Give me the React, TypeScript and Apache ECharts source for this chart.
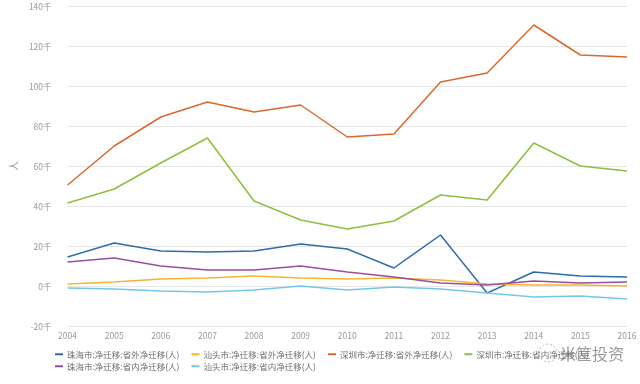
import React, { useEffect, useRef } from "react";
import * as echarts from "echarts";

const years = ["2004","2005","2006","2007","2008","2009","2010","2011","2012","2013","2014","2015","2016"];
const zhuhaiOut = [14.5, 21.5, 17.5, 17, 17.5, 21, 18.5, 9, 25.5, -3.5, 7, 5, 4.5];
const shantouOut = [1, 2, 3.5, 4, 5, 4, 3.5, 4, 3, 1, 0.5, 0.5, 0];
const shenzhenOut = [50.5, 70, 84.5, 92, 87, 90.5, 74.5, 76, 102, 106.5, 130.5, 115.5, 114.5];
const shenzhenIn = [41.5, 48.5, 61.5, 74, 42.5, 33, 28.5, 32.5, 45.5, 43, 71.5, 60, 57.5];
const zhuhaiIn = [12, 14, 10, 8, 8, 10, 7, 4.5, 1.5, 0.5, 2.5, 1.5, 2];
const shantouIn = [-1, -1.5, -2.5, -3, -2, 0, -2, -0.5, -1.5, -3.5, -5.5, -5, -6.5];

const names = [
  "珠海市:净迁移:省外净迁移(人)",
  "汕头市:净迁移:省外净迁移(人)",
  "深圳市:净迁移:省外净迁移(人)",
  "深圳市:净迁移:省内净迁移(人)",
  "珠海市:净迁移:省内净迁移(人)",
  "汕头市:净迁移:省内净迁移(人)",
];
const colors = ["#2c6bac", "#f2b632", "#d9692f", "#8cbf3f", "#9a4f9e", "#73c8ea"];
const dataSets = [zhuhaiOut, shantouOut, shenzhenOut, shenzhenIn, zhuhaiIn, shantouIn];

export default function App() {
  const ref = useRef<HTMLDivElement>(null);
  useEffect(() => {
    const chart = echarts.init(ref.current!, null, { renderer: "svg" });
    const legendBase = {
      itemWidth: 8,
      itemHeight: 2,
      itemGap: 12,
      icon: "rect",
      textStyle: { fontSize: 8.5, color: "#6f6f6f", padding: [0, 0, 0, -1] },
      padding: 0,
    };
    chart.setOption({
      animation: false,
      color: colors,
      textStyle: { fontFamily: "Noto Sans CJK SC, sans-serif" },
      grid: { left: 60, right: 13, top: 6, bottom: 58 },
      legend: [
        { ...legendBase, left: 55, top: 350, data: names.slice(0, 4) },
        { ...legendBase, left: 55, top: 362, data: names.slice(4) },
      ],
      xAxis: {
        type: "category",
        data: years,
        boundaryGap: false,
        axisLine: { show: false },
        axisTick: { show: false },
        axisLabel: { fontSize: 8.5, color: "#999", margin: 5 },
      },
      yAxis: {
        type: "value",
        min: -20,
        max: 140,
        interval: 20,
        name: "人",
        nameLocation: "middle",
        nameGap: 46,
        nameTextStyle: { fontSize: 10, color: "#999" },
        axisLine: { show: false },
        axisTick: { show: false },
        axisLabel: { fontSize: 8.5, color: "#999", margin: 16, formatter: (v: number) => v + "千" },
        splitLine: { lineStyle: { color: "#e6e6e6" } },
      },
      series: dataSets.map((d, i) => ({
        name: names[i],
        type: "line",
        data: d,
        showSymbol: false,
        lineStyle: { width: 1.5 },
      })),
      graphic: [
        { type: "circle", x: 548, y: 353, shape: { r: 9 }, style: { fill: "rgba(255,255,255,0.8)", stroke: "#bbb", lineWidth: 1, lineDash: [2, 2] } },
        { type: "text", x: 560, y: 345, style: { text: "米筐投资", fontSize: 16, fill: "#999", fontFamily: "Noto Sans CJK SC" } },
      ],
    });
    return () => chart.dispose();
  }, []);
  return <div ref={ref} style={{ position: "fixed", left: 0, top: 0, width: 640, height: 384 }} />;
}
